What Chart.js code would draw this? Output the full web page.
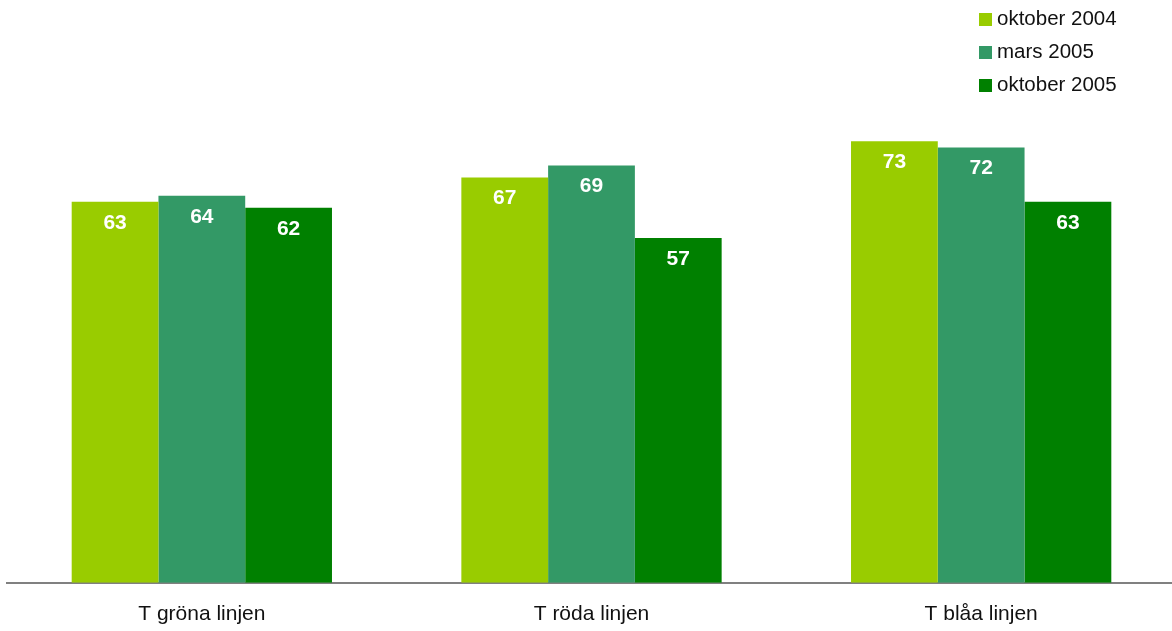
<!DOCTYPE html>
<html>
<head>
<meta charset="utf-8">
<script src="https://cdn.jsdelivr.net/npm/chart.js@4"></script>
<style>
    html, body { margin: 0; padding: 0; background: #fff; overflow: hidden; }
    #wrap { position: relative; width: 1172px; height: 631px; overflow: hidden; }
    #legend { position: absolute; left: 979px; top: 6px; font-family: "Liberation Sans", Arial, sans-serif; font-size: 20.5px; color: #111; }
    #legend div { height: 33px; line-height: 24px; white-space: nowrap; }
    #legend span { display: inline-block; width: 13px; height: 13px; margin-right: 5px; vertical-align: -1px; }
</style>
</head>
<body>
<div id="wrap">
    <canvas id="c" width="1176" height="631"></canvas>
    <div id="legend"></div>
</div>
<script>
(function () {
    const categories = ['T gröna linjen', 'T röda linjen', 'T blåa linjen'];
    const seriesNames = ['oktober 2004', 'mars 2005', 'oktober 2005'];
    const okt2004 = [63, 67, 73];
    const mars2005 = [64, 69, 72];
    const okt2005 = [62, 57, 63];
    const colors = ['#99cc00', '#339966', '#008000'];
    const fontFamily = '"Liberation Sans", Arial, sans-serif';

    const legend = document.getElementById('legend');
    seriesNames.forEach(function (name, i) {
        const row = document.createElement('div');
        const box = document.createElement('span');
        box.style.background = colors[i];
        row.appendChild(box);
        row.appendChild(document.createTextNode(name));
        legend.appendChild(row);
    });

    const valueLabels = {
        id: 'valueLabels',
        afterDatasetsDraw: function (chart) {
            const ctx = chart.ctx;
            ctx.save();
            ctx.fillStyle = '#ffffff';
            ctx.font = 'bold 21px ' + fontFamily;
            ctx.textAlign = 'center';
            ctx.textBaseline = 'middle';
            chart.data.datasets.forEach(function (ds, i) {
                chart.getDatasetMeta(i).data.forEach(function (bar, j) {
                    ctx.fillText(String(ds.data[j]), bar.x, bar.y + 21);
                });
            });
            ctx.restore();
        }
    };

    new Chart(document.getElementById('c').getContext('2d'), {
        type: 'bar',
        data: {
            labels: categories,
            datasets: [
                { label: seriesNames[0], data: okt2004, backgroundColor: colors[0] },
                { label: seriesNames[1], data: mars2005, backgroundColor: colors[1] },
                { label: seriesNames[2], data: okt2005, backgroundColor: colors[2] }
            ]
        },
        options: {
            responsive: false,
            animation: false,
            layout: { padding: { left: 7, right: 0, top: 99, bottom: -7 } },
            datasets: {
                bar: { barPercentage: 1, categoryPercentage: 0.668 }
            },
            plugins: {
                legend: { display: false },
                tooltip: { enabled: false }
            },
            scales: {
                x: {
                    grid: { display: false },
                    border: { display: true, color: '#808080', width: 2 },
                    ticks: { color: '#111', font: { family: fontFamily, size: 21 }, padding: 11 }
                },
                y: {
                    display: false,
                    min: 0,
                    max: 80
                }
            }
        },
        plugins: [valueLabels]
    });
})();
</script>
</body>
</html>
